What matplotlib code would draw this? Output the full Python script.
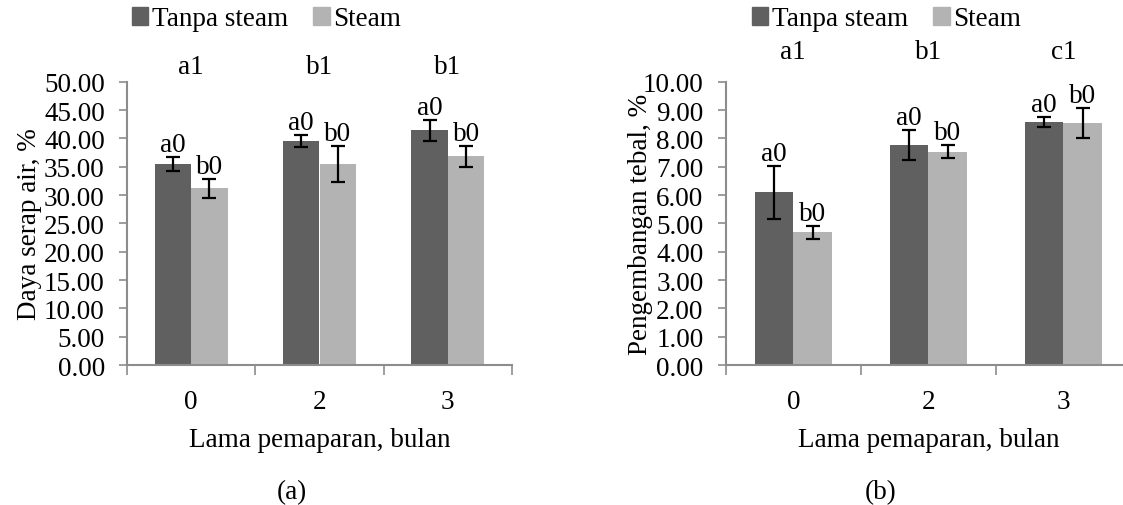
import numpy as np
import matplotlib.pyplot as plt
from matplotlib.patches import Patch

plt.rcParams["font.family"] = ["Liberation Serif", "DejaVu Serif"]
plt.rcParams["font.size"] = 19.5

# data
kategori = ["0", "2", "3"]
seri = ["Tanpa steam", "Steam"]

serap_tanpa = [35.5, 39.5, 41.4]
serap_tanpa_err = [1.2, 1.1, 1.8]
serap_steam = [31.2, 35.5, 36.8]
serap_steam_err = [1.7, 3.2, 1.8]

tebal_tanpa = [6.09, 7.76, 8.58]
tebal_tanpa_err = [0.93, 0.54, 0.17]
tebal_steam = [4.68, 7.53, 8.54]
tebal_steam_err = [0.24, 0.24, 0.52]

huruf_tanpa = ["a0", "a0", "a0"]
huruf_steam = ["b0", "b0", "b0"]
huruf_grup_a = ["a1", "b1", "b1"]
huruf_grup_b = ["a1", "b1", "c1"]

warna = ["#606060", "#b3b3b3"]
abu = "#8c8c8c"

W, H = 1123, 506
fig = plt.figure(figsize=(W / 100, H / 100), dpi=100)
ax1 = fig.add_axes([127 / W, 1 - 366 / H, 385 / W, 283.3 / H])
ax2 = fig.add_axes([725.7 / W, 1 - 366 / H, 405.3 / W, 283.3 / H])


def gambar(ax, tanpa, tanpa_err, steam, steam_err, grup, ymax, ystep, ylabel,
           ylab_x, grup_y, leg_x, huruf, huruf_x):
    x = np.arange(len(kategori))
    w = 0.285
    ax.bar(x - w / 2, tanpa, w, color=warna[0], zorder=2)
    ax.bar(x + w / 2, steam, w, color=warna[1], zorder=2)
    ek = dict(fmt="none", ecolor="black", elinewidth=1.6, capsize=5, capthick=1.6, zorder=3)
    ax.errorbar(x - w / 2, tanpa, yerr=tanpa_err, **ek)
    ax.errorbar(x + w / 2, steam, yerr=steam_err, **ek)

    # huruf notasi di atas error bar
    for i in range(len(x)):
        ax.annotate(huruf_tanpa[i], (x[i] - w / 2, tanpa[i] + tanpa_err[i]),
                    xytext=(0, 0), textcoords="offset points", ha="center", va="bottom")
        ax.annotate(huruf_steam[i], (x[i] + w / 2, steam[i] + steam_err[i]),
                    xytext=(0, 0), textcoords="offset points", ha="center", va="bottom")
        ax.text(x[i], grup_y, grup[i], transform=ax.get_xaxis_transform(),
                ha="center", va="center")

    ax.set_xlim(-0.5, len(x) - 0.5)
    ax.set_ylim(0, ymax)
    ax.set_yticks(np.arange(0, ymax + ystep / 2, ystep))
    ax.yaxis.set_major_formatter(plt.FormatStrFormatter("%.2f"))
    ax.set_xticks(np.arange(-0.5, len(x), 1.0))
    ax.set_xticklabels([])
    ax.set_xticks(x, minor=True)
    ax.set_xticklabels(kategori, minor=True)
    ax.tick_params(axis="x", which="major", length=7, width=1.2, color=abu, direction="out")
    ax.tick_params(axis="x", which="minor", length=0, pad=17)
    ax.tick_params(axis="y", length=6, width=1.2, color=abu, pad=10)

    for s in ["top", "right"]:
        ax.spines[s].set_visible(False)
    for s in ["left", "bottom"]:
        ax.spines[s].set_color(abu)
        ax.spines[s].set_linewidth(1.5)

    ax.set_ylabel(ylabel)
    ax.yaxis.set_label_coords(ylab_x, 0.5)
    ax.set_xlabel("Lama pemaparan, bulan")
    ax.xaxis.set_label_coords(0.5, -0.22)

    handles = [Patch(color=warna[0]), Patch(color=warna[1])]
    fig.legend(handles, seri, loc="center left", bbox_to_anchor=(leg_x, 1 - 20 / H),
               ncol=2, frameon=False, handlelength=0.6, handleheight=0.6,
               handletextpad=0.12, columnspacing=0.95, borderpad=0, borderaxespad=0)
    fig.text(huruf_x / W, 1 - 493 / H, huruf, ha="center", va="center")


gambar(ax1, serap_tanpa, serap_tanpa_err, serap_steam, serap_steam_err, huruf_grup_a,
       50, 5, "Daya serap air, %", -0.22, 1.052, 132 / W, "(a)", 292)
gambar(ax2, tebal_tanpa, tebal_tanpa_err, tebal_steam, tebal_steam_err, huruf_grup_b,
       10, 1, "Pengembangan tebal, %", -0.18, 1.105, 752 / W, "(b)", 881)

fig.savefig("out.png", dpi=100)
